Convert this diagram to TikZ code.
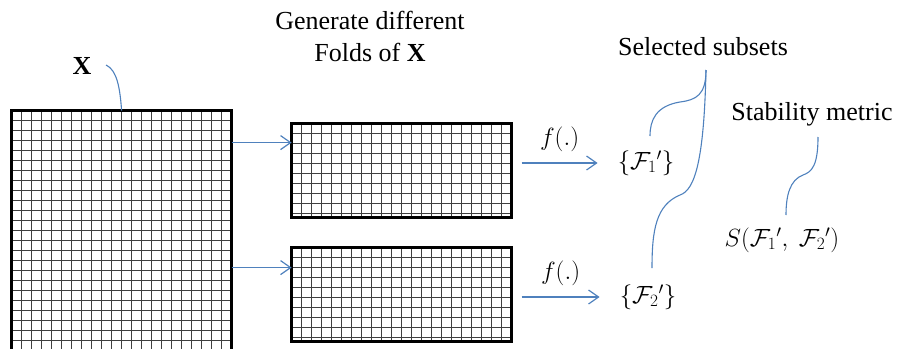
\documentclass[tikz,border=0pt]{standalone}
\usepackage{fontspec}
\setmainfont{Liberation Serif}
\usetikzlibrary{arrows.meta,positioning}
\definecolor{linkblue}{RGB}{79,129,189}

\begin{document}
\begin{tikzpicture}[
  x=1pt, y=-1pt,
  font=\fontsize{26}{32}\selectfont,
  gridline/.style={black!75, line width=1.1pt},
  gridbox/.style={draw, line width=3.2pt, minimum width=220pt, inner sep=0pt, outer sep=0pt, anchor=north west},
  flow/.style={draw=linkblue, line width=1.2pt, -{Straight Barb[length=10pt, width=14pt]}},
  brace/.style={draw=linkblue, line width=1.1pt},
  lbl/.style={inner sep=2pt, align=center}
]
\path[use as bounding box] (0,0) rectangle (904,348);
\clip (0,0) rectangle (904,348);

% data matrix and its folds
\node[gridbox, minimum height=270pt] (bigX) at (11.6,110.6) {};
\node[gridbox, minimum height=94pt] (fold1) at (291.6,123.6) {};
\node[gridbox, minimum height=94pt] (fold2) at (291.6,247.6) {};

% cells
\foreach \nd/\h in {bigX/270,fold1/94,fold2/94} {
  \begin{scope}[shift={(\nd.north west)}]
    \clip (1.6,1.6) rectangle (218.4,\h-1.6);
    \foreach \k in {1,...,28} {
      \draw[gridline] (\k*10,0) -- (\k*10,\h);
      \draw[gridline] (0,\k*10) -- (220,\k*10);
    }
  \end{scope}
  \draw[line width=3.2pt] (\nd.north west) rectangle (\nd.south east);
}

% labels
\node[lbl] (xlab) at (82,66) {\textbf{X}};
\node[lbl] (gen) at (370,36) {Generate different\\Folds of \textbf{X}};
\node[lbl] (set1) at (646,163) {$\{\mathcal{F}_1{}'\}$};
\node[lbl] (set2) at (648,297) {$\{\mathcal{F}_2{}'\}$};
\node[lbl] (sel) at (703,47) {Selected subsets};
\node[lbl] (stab) at (812,114) {Stability metric};
\node[lbl] (smet) at (782,240) {$S(\mathcal{F}_1{}',\ \mathcal{F}_2{}')$};

% brace ends
\coordinate (xtip) at (106,65);
\coordinate (selTip) at (706,70);
\coordinate (s1top) at (650,136);
\coordinate (s2top) at (652,268);
\coordinate (stabTip) at (818,137);
\coordinate (smetTop) at (786,215);
\coordinate (in1) at ([yshift=-19pt]fold1.north west);
\coordinate (in2) at ([yshift=-20pt]fold2.north west);

% folds
\draw[flow] (bigX.east |- in1) -- (in1);
\draw[flow] (bigX.east |- in2) -- (in2);

% selection
\draw[flow] (fold1.east |- set1.west) ++(10,0) -- node[above=7pt]{$f(.)$} ([xshift=-18pt]set1.west);
\draw[flow] (fold2.east |- set2.west) ++(10,0) -- node[above=7pt]{$f(.)$} ([xshift=-18pt]set2.west);

% curly pointers
\draw[brace] (xtip) .. controls (117,70) and (120,88) .. (bigX.north);
\draw[brace] (selTip) .. controls (706,95) and (696,100) .. (680,102) .. controls (656,106) and (650,120) .. (s1top);
\draw[brace] (selTip) .. controls (704,160) and (695,190) .. (680,195) .. controls (656,205) and (652,230) .. (s2top);
\draw[brace] (stabTip) .. controls (818,165) and (812,172) .. (803,175) .. controls (790,180) and (786,195) .. (smetTop);
\end{tikzpicture}
\end{document}
